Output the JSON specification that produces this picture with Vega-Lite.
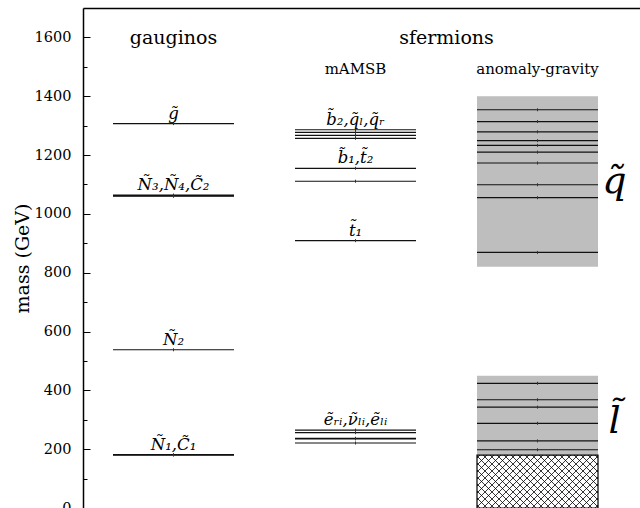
{
  "$schema": "https://vega.github.io/schema/vega-lite/v6.json",
  "width": 557,
  "height": 500,
  "autosize": {"type": "none"},
  "padding": {"left": 83, "top": 8, "right": 0, "bottom": 0},
  "background": "white",
  "config": {"view": {"stroke": null}, "font": "DejaVu Serif"},
  "datasets": {
    "levels": [
      {"col": "gauginos", "mass": 1307},
      {"col": "gauginos", "mass": 1064},
      {"col": "gauginos", "mass": 1062},
      {"col": "gauginos", "mass": 1060},
      {"col": "gauginos", "mass": 538},
      {"col": "gauginos", "mass": 181.5},
      {"col": "gauginos", "mass": 180},
      {"col": "mAMSB", "mass": 1286},
      {"col": "mAMSB", "mass": 1277},
      {"col": "mAMSB", "mass": 1267},
      {"col": "mAMSB", "mass": 1257},
      {"col": "mAMSB", "mass": 1155},
      {"col": "mAMSB", "mass": 1111},
      {"col": "mAMSB", "mass": 909},
      {"col": "mAMSB", "mass": 265},
      {"col": "mAMSB", "mass": 256},
      {"col": "mAMSB", "mass": 237},
      {"col": "mAMSB", "mass": 235},
      {"col": "mAMSB", "mass": 221},
      {"col": "anomaly-gravity", "mass": 1354},
      {"col": "anomaly-gravity", "mass": 1314},
      {"col": "anomaly-gravity", "mass": 1279},
      {"col": "anomaly-gravity", "mass": 1249},
      {"col": "anomaly-gravity", "mass": 1233},
      {"col": "anomaly-gravity", "mass": 1210},
      {"col": "anomaly-gravity", "mass": 1173},
      {"col": "anomaly-gravity", "mass": 1099},
      {"col": "anomaly-gravity", "mass": 1055},
      {"col": "anomaly-gravity", "mass": 869},
      {"col": "anomaly-gravity", "mass": 424},
      {"col": "anomaly-gravity", "mass": 368},
      {"col": "anomaly-gravity", "mass": 343},
      {"col": "anomaly-gravity", "mass": 288},
      {"col": "anomaly-gravity", "mass": 228},
      {"col": "anomaly-gravity", "mass": 198}
    ],
    "regions": [
      {"col": "anomaly-gravity", "mass": 1400, "mass2": 820, "kind": "squarks"},
      {"col": "anomaly-gravity", "mass": 450, "mass2": 180, "kind": "sleptons"}
    ],
    "excluded": [
      {"col": "anomaly-gravity", "mass": 180, "mass2": 0, "mid": 90}
    ],
    "particles": [
      {"col": "gauginos", "mass": 1307, "text": "g\u0303"},
      {"col": "gauginos", "mass": 1064, "text": "\u00d1\u2083,\u00d1\u2084,C\u0303\u2082"},
      {"col": "gauginos", "mass": 538, "text": "\u00d1\u2082"},
      {"col": "gauginos", "mass": 181.5, "text": "\u00d1\u2081,C\u0303\u2081"},
      {"col": "mAMSB", "mass": 1286, "text": "b\u0303\u2082,q\u0303\u2097,q\u0303\u1d63"},
      {"col": "mAMSB", "mass": 1155, "text": "b\u0303\u2081,t\u0303\u2082"},
      {"col": "mAMSB", "mass": 909, "text": "t\u0303\u2081"},
      {"col": "mAMSB", "mass": 265, "text": "\u1ebd\u1d63\u1d62,\u03bd\u0303\u2097\u1d62,\u1ebd\u2097\u1d62"}
    ]
  },
  "encoding": {
    "x": {
      "field": "col",
      "type": "nominal",
      "scale": {
        "domain": ["gauginos", "mAMSB", "anomaly-gravity"],
        "paddingInner": 0.33516,
        "paddingOuter": 0.1978,
        "align": 0.4167
      },
      "axis": {
        "orient": "top",
        "labels": false,
        "ticks": false,
        "title": null,
        "grid": false,
        "domainColor": "black",
        "domainWidth": 1.5
      }
    },
    "y": {
      "field": "mass",
      "type": "quantitative",
      "title": "mass (GeV)",
      "scale": {"domain": [0, 1700], "nice": false, "zero": true},
      "axis": {
        "orient": "left",
        "values": [0, 100, 200, 300, 400, 500, 600, 700, 800, 900, 1000, 1100, 1200, 1300, 1400, 1500, 1600],
        "format": "d",
        "labelExpr": "datum.value % 200 === 0 ? datum.label : ''",
        "tickSize": {"condition": {"test": "datum.value % 200 === 0", "value": -7}, "value": -4},
        "tickColor": "black",
        "tickWidth": 1,
        "domainColor": "black",
        "domainWidth": 1.5,
        "grid": false,
        "labelFont": "DejaVu Serif",
        "labelFontSize": 14.5,
        "labelColor": "black",
        "labelPadding": 19,
        "labelFlush": false,
        "labelOverlap": false,
        "titleFont": "DejaVu Serif",
        "titleFontSize": 19,
        "titleFontWeight": "normal",
        "titleColor": "black",
        "titlePadding": 2
      }
    }
  },
  "layer": [
    {
      "data": {"name": "regions"},
      "mark": {"type": "bar", "color": "#bebebe"},
      "encoding": {"y2": {"field": "mass2"}}
    },
    {
      "data": {"name": "excluded"},
      "mark": {"type": "bar", "fill": "white", "stroke": "black", "strokeWidth": 1.2},
      "encoding": {"y2": {"field": "mass2"}}
    },
    {
      "data": {"name": "excluded"},
      "mark": {
        "type": "point",
        "filled": false,
        "size": 4,
        "stroke": "black",
        "strokeWidth": 0.8,
        "opacity": 1,
        "shape": "M-60.5,23.5L-57.5,26.5M-60.5,16.5L-50.5,26.5M-60.5,9.5L-43.5,26.5M-60.5,2.5L-36.5,26.5M-60.5,-4.5L-29.5,26.5M-60.5,-11.5L-22.5,26.5M-60.5,-18.5L-15.5,26.5M-60.5,-25.5L-8.5,26.5M-54.5,-26.5L-1.5,26.5M-47.5,-26.5L5.5,26.5M-40.5,-26.5L12.5,26.5M-33.5,-26.5L19.5,26.5M-26.5,-26.5L26.5,26.5M-19.5,-26.5L33.5,26.5M-12.5,-26.5L40.5,26.5M-5.5,-26.5L47.5,26.5M1.5,-26.5L54.5,26.5M8.5,-26.5L60.5,25.5M15.5,-26.5L60.5,18.5M22.5,-26.5L60.5,11.5M29.5,-26.5L60.5,4.5M36.5,-26.5L60.5,-2.5M43.5,-26.5L60.5,-9.5M50.5,-26.5L60.5,-16.5M57.5,-26.5L60.5,-23.5M-57.5,-26.5L-60.5,-23.5M-50.5,-26.5L-60.5,-16.5M-43.5,-26.5L-60.5,-9.5M-36.5,-26.5L-60.5,-2.5M-29.5,-26.5L-60.5,4.5M-22.5,-26.5L-60.5,11.5M-15.5,-26.5L-60.5,18.5M-8.5,-26.5L-60.5,25.5M-1.5,-26.5L-54.5,26.5M5.5,-26.5L-47.5,26.5M12.5,-26.5L-40.5,26.5M19.5,-26.5L-33.5,26.5M26.5,-26.5L-26.5,26.5M33.5,-26.5L-19.5,26.5M40.5,-26.5L-12.5,26.5M47.5,-26.5L-5.5,26.5M54.5,-26.5L1.5,26.5M60.5,-25.5L8.5,26.5M60.5,-18.5L15.5,26.5M60.5,-11.5L22.5,26.5M60.5,-4.5L29.5,26.5M60.5,2.5L36.5,26.5M60.5,9.5L43.5,26.5M60.5,16.5L50.5,26.5M60.5,23.5L57.5,26.5"
      },
      "encoding": {"y": {"field": "mid", "type": "quantitative", "title": "mass (GeV)"}}
    },
    {
      "data": {"name": "levels"},
      "mark": {"type": "tick", "size": 121, "thickness": 1.2, "color": "#111111", "opacity": 1}
    },
    {
      "data": {"name": "levels"},
      "mark": {
        "type": "point",
        "shape": "M0,-1L0,1",
        "size": 9,
        "filled": false,
        "stroke": "#333333",
        "strokeWidth": 1,
        "opacity": 1
      }
    },
    {
      "data": {"name": "particles"},
      "mark": {
        "type": "text",
        "font": "DejaVu Serif",
        "fontStyle": "italic",
        "fontSize": 16.5,
        "color": "black",
        "align": "center",
        "baseline": "alphabetic",
        "dy": -5
      },
      "encoding": {"text": {"field": "text"}}
    },
    {
      "data": {"values": [{"col": "gauginos", "mass": 1577, "text": "gauginos"}]},
      "mark": {"type": "text", "font": "DejaVu Serif", "fontSize": 19, "color": "black", "align": "center", "baseline": "alphabetic"},
      "encoding": {"text": {"field": "text"}}
    },
    {
      "data": {"values": [{"col": "mAMSB", "mass": 1577, "text": "sfermions"}]},
      "mark": {"type": "text", "font": "DejaVu Serif", "fontSize": 19, "color": "black", "align": "center", "baseline": "alphabetic", "dx": 91},
      "encoding": {"text": {"field": "text"}}
    },
    {
      "data": {"values": [
        {"col": "mAMSB", "mass": 1476, "text": "mAMSB"},
        {"col": "anomaly-gravity", "mass": 1476, "text": "anomaly-gravity"}
      ]},
      "mark": {"type": "text", "font": "DejaVu Serif", "fontSize": 15, "color": "black", "align": "center", "baseline": "alphabetic"},
      "encoding": {"text": {"field": "text"}}
    },
    {
      "data": {"values": [
        {"col": "anomaly-gravity", "mass": 1071, "text": "q\u0303"},
        {"col": "anomaly-gravity", "mass": 255, "text": "l\u0303"}
      ]},
      "mark": {"type": "text", "font": "DejaVu Serif", "fontStyle": "italic", "fontSize": 38, "color": "black", "align": "center", "baseline": "alphabetic", "dx": 77},
      "encoding": {"text": {"field": "text"}}
    }
  ]
}
